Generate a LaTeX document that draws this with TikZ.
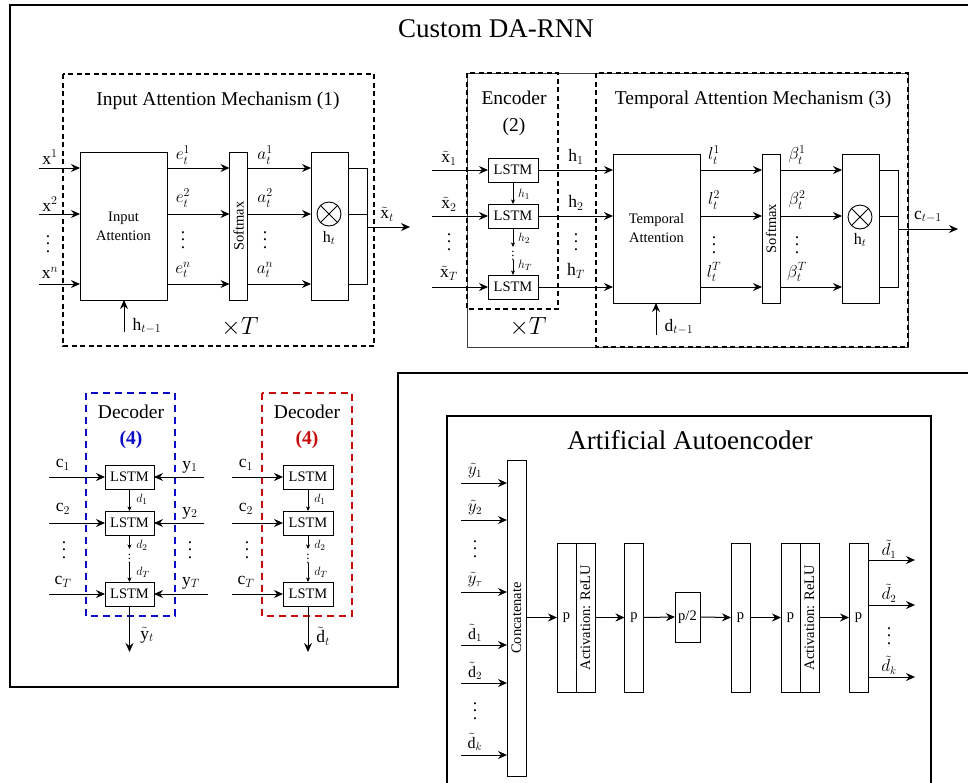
\documentclass[tikz,border=0pt]{standalone}
\usepackage{amsmath}
\usepackage{fontspec}
\setmainfont{Liberation Serif}
\usetikzlibrary{arrows.meta,calc}
\definecolor{dblue}{RGB}{10,10,200}
\definecolor{dred}{RGB}{200,10,10}
\newcommand{\vdt}{\vbox{\baselineskip=7.5pt\lineskiplimit=0pt\hbox{.}\hbox{.}\hbox{.}}}
\begin{document}
\begin{tikzpicture}[x=1pt,y=-1pt,
  box/.style={draw, line width=0.9pt, inner sep=0pt, outer sep=0pt},
  arr/.style={line width=1pt, -{Stealth[length=9pt,width=8pt,inset=3pt]}},
  sarr/.style={line width=0.7pt, -{Stealth[length=4.5pt,width=4pt,inset=1.2pt]}},
  ln/.style={line width=0.9pt},
  dbox/.style={draw, line width=1.3pt, dash pattern=on 5pt off 3.5pt},
  cbox/.style={draw, line width=2pt, dash pattern=on 7pt off 5pt},
  lbl/.style={font=\fontsize{17.5}{19}\selectfont, inner sep=0pt},
  albl/.style={font=\fontsize{16}{18}\selectfont, inner sep=0pt},
  slbl/.style={font=\fontsize{13}{14}\selectfont, inner sep=0pt},
  dts/.style={font=\fontsize{17.5}{19}\selectfont, inner sep=0pt},
  ttl/.style={font=\fontsize{19.5}{22}\selectfont, inner sep=0pt},
  big/.style={font=\fontsize{27}{30}\selectfont, inner sep=0pt},
  bigT/.style={font=\fontsize{24}{26}\selectfont, inner sep=0pt},
  intext/.style={font=\fontsize{14.5}{19}\selectfont, align=center},
  otimes/.style={draw, circle, minimum size=24pt, inner sep=0pt, line width=0.9pt},
]
\useasboundingbox (0,0) rectangle (968,782);

% ---------- outer frame ----------
\draw[line width=1.6pt] (975,5) -- (10,5) -- (10,687) -- (398,687) -- (398,373) -- (975,373);
\node[big] (title) at (496,29) {Custom DA-RNN};

% ---------- Input attention ----------
\draw[dbox] (63,74) rectangle (374,346);
\node[ttl] (iatitle) at (218,101) {Input Attention Mechanism (1)};
\node[box, minimum width=87pt, minimum height=148pt, intext] (ia) at (123.5,226) {Input\\Attention};
\node[box, minimum width=18pt, minimum height=148pt] (sm1) at (238.5,226) {};
\node[intext, inner sep=0pt, rotate=90] (sm1t) at (sm1.center) {Softmax};
\node[box, minimum width=37pt, minimum height=148pt] (mu1) at (329.5,226) {};
\node[otimes] (ot1) at (329,214) {};
\draw[line width=0.9pt] (ot1.north west) -- (ot1.south east) (ot1.north east) -- (ot1.south west);
\node[albl] (ht1) at (329,238) {$\mathrm{h}_t$};

\coordinate (xa) at (39,168);
\coordinate (xb) at (39,214);
\coordinate (xc) at (39,284);
\draw[arr] (xa) -- (xa -| ia.west);
\draw[arr] (xb) -- (xb -| ia.west);
\draw[arr] (xc) -- (xc -| ia.west);
\node[lbl] (lx1) at (50,157) {$\mathrm{x}^1$};
\node[lbl] (lx2) at (50,204) {$\mathrm{x}^2$};
\node[dts] (lxd) at (48,244) {\vdt};
\node[lbl] (lxn) at (50,273) {$\mathrm{x}^n$};

\draw[arr] (xa -| ia.east) -- (xa -| sm1.west);
\draw[arr] (xb -| ia.east) -- (xb -| sm1.west);
\draw[arr] (xc -| ia.east) -- (xc -| sm1.west);
\node[lbl] (le1) at (183,155) {$e_t^1$};
\node[lbl] (le2) at (183,198) {$e_t^2$};
\node[dts] (led) at (183,240) {\vdt};
\node[lbl] (len) at (183,270) {$e_t^n$};

\draw[arr] (xa -| sm1.east) -- (xa -| mu1.west);
\draw[arr] (xb -| sm1.east) -- (xb -| mu1.west);
\draw[arr] (xc -| sm1.east) -- (xc -| mu1.west);
\node[lbl] (la1) at (265,155) {$a_t^1$};
\node[lbl] (la2) at (265,198) {$a_t^2$};
\node[dts] (lad) at (265,240) {\vdt};
\node[lbl] (lan) at (265,270) {$a_t^n$};

\coordinate (j1) at (367,227);
\coordinate (o1) at (410,227);
\draw[ln] (xa -| mu1.east) -- (xa -| j1) -- (xc -| j1) -- (xc -| mu1.east);
\draw[ln] (xb -| mu1.east) -- (xb -| j1);
\draw[arr] (j1) -- (o1);
\node[lbl] (lxt) at (387,214) {$\tilde{\mathrm{x}}_t$};

\coordinate (hp) at (124,332);
\draw[arr] (hp) -- (hp |- ia.south);
\node[lbl] (lhp) at (147,326) {$\mathrm{h}_{t-1}$};
\node[bigT] (xT1) at (240,327) {$\times T$};

% ---------- Encoder + temporal attention ----------
\draw[line width=0.9pt, black!75] (467,73) rectangle (908,347);
\draw[dbox] (467,73) rectangle (558,309);
\draw[dbox] (596,73) rectangle (908,347);
\node[ttl] (enct) at (514,98) {Encoder};
\node[ttl] (enc2) at (514,127) {(2)};
\node[ttl] (tat) at (753,100) {Temporal Attention Mechanism (3)};
\node[bigT] (xT2) at (528,327) {$\times T$};

\node[box, minimum width=50pt, minimum height=24pt, intext] (e1) at (513,170) {LSTM};
\node[box, minimum width=50pt, minimum height=24pt, intext] (e2) at (513,216) {LSTM};
\node[box, minimum width=50pt, minimum height=24pt, intext] (e3) at (513,287) {LSTM};
\coordinate (ex1) at (432,170);
\coordinate (ex2) at (432,216);
\coordinate (ex3) at (432,287);
\draw[arr] (ex1) -- (e1.west);
\draw[arr] (ex2) -- (e2.west);
\draw[arr] (ex3) -- (e3.west);
\node[lbl] (lex1) at (449,158) {$\tilde{\mathrm{x}}_1$};
\node[lbl] (lex2) at (449,204) {$\tilde{\mathrm{x}}_2$};
\node[dts] (lexd) at (449,242) {\vdt};
\node[lbl] (lexT) at (449,273) {$\tilde{\mathrm{x}}_T$};

\draw[sarr] (e1.south) -- (e2.north);
\node[slbl] (lh1) at (524,194) {$h_1$};
\coordinate (em1) at (513,247);
\coordinate (em2) at (513,260);
\draw[sarr] (e2.south) -- (em1);
\node[slbl] (lh2) at (524,238) {$h_2$};
\node[slbl] (emd) at (513,253) {$\vdots$};
\draw[sarr] (em2) -- (e3.north);
\node[slbl] (lhT) at (525,265) {$h_T$};

\node[box, minimum width=87pt, minimum height=149pt, intext] (ta) at (656.5,228.5) {Temporal\\Attention};
\draw[arr] (e1.east) -- (e1.east -| ta.west);
\draw[arr] (e2.east) -- (e2.east -| ta.west);
\draw[arr] (e3.east) -- (e3.east -| ta.west);
\node[lbl] (lo1) at (576,157) {$\mathrm{h}_1$};
\node[lbl] (lo2) at (576,203) {$\mathrm{h}_2$};
\node[dts] (lod) at (576,242) {\vdt};
\node[lbl] (loT) at (576,271) {$\mathrm{h}_T$};

\node[box, minimum width=18pt, minimum height=149pt] (sm2) at (771,228.5) {};
\node[intext, inner sep=0pt, rotate=90] (sm2t) at (sm2.center) {Softmax};
\node[box, minimum width=37pt, minimum height=149pt] (mu2) at (860.5,228.5) {};
\node[otimes] (ot2) at (860,217) {};
\draw[line width=0.9pt] (ot2.north west) -- (ot2.south east) (ot2.north east) -- (ot2.south west);
\node[albl] (ht2) at (860,240) {$\mathrm{h}_t$};

\draw[arr] (e1.east -| ta.east) -- (e1.east -| sm2.west);
\draw[arr] (e2.east -| ta.east) -- (e2.east -| sm2.west);
\draw[arr] (e3.east -| ta.east) -- (e3.east -| sm2.west);
\node[lbl] (ll1) at (714,155) {$l_t^1$};
\node[lbl] (ll2) at (714,200) {$l_t^2$};
\node[dts] (lld) at (714,245) {\vdt};
\node[lbl] (llT) at (714,272) {$l_t^T$};

\draw[arr] (e1.east -| sm2.east) -- (e1.east -| mu2.west);
\draw[arr] (e2.east -| sm2.east) -- (e2.east -| mu2.west);
\draw[arr] (e3.east -| sm2.east) -- (e3.east -| mu2.west);
\node[lbl] (lb1) at (797,155) {$\beta_t^1$};
\node[lbl] (lb2) at (797,200) {$\beta_t^2$};
\node[dts] (lbd) at (797,245) {\vdt};
\node[lbl] (lbT) at (797,272) {$\beta_t^T$};

\coordinate (j2) at (898,229);
\coordinate (o2) at (958,229);
\draw[ln] (e1.east -| mu2.east) -- (e1.east -| j2) -- (e3.east -| j2) -- (e3.east -| mu2.east);
\draw[ln] (e2.east -| mu2.east) -- (e2.east -| j2);
\draw[arr] (j2) -- (o2);
\node[lbl] (lct) at (928,217) {$\mathrm{c}_{t-1}$};

\coordinate (dp) at (656,335);
\draw[arr] (dp) -- (dp |- ta.south);
\node[lbl] (ldp) at (679,327) {$\mathrm{d}_{t-1}$};

% ---------- Decoder (blue) ----------
\draw[cbox, dblue] (86,393) rectangle (175,616);
\node[ttl] (dbt) at (131,412) {Decoder};
\node[ttl, text=dblue] (db4) at (131,440) {\textbf{(4)}};
\node[box, minimum width=49pt, minimum height=24pt, intext] (db1) at (129.5,477) {LSTM};
\node[box, minimum width=49pt, minimum height=24pt, intext] (db2) at (129.5,523) {LSTM};
\node[box, minimum width=49pt, minimum height=24pt, intext] (db3) at (129.5,594) {LSTM};
\coordinate (bc1) at (49,477);
\coordinate (bc2) at (49,523);
\coordinate (bc3) at (49,594);
\draw[arr] (bc1) -- (db1.west);
\draw[arr] (bc2) -- (db2.west);
\draw[arr] (bc3) -- (db3.west);
\node[lbl] (lbc1) at (63,465) {$\mathrm{c}_1$};
\node[lbl] (lbc2) at (63,509) {$\mathrm{c}_2$};
\node[dts] (lbcd) at (64,550) {\vdt};
\node[lbl] (lbcT) at (63,582) {$\mathrm{c}_T$};
\coordinate (by1) at (204,477);
\coordinate (by2) at (204,523);
\coordinate (by3) at (208,594);
\draw[arr] (by1) -- (db1.east);
\draw[arr] (by2) -- (db2.east);
\draw[arr] (by3) -- (db3.east);
\node[lbl] (lby1) at (190,467) {$\mathrm{y}_1$};
\node[lbl] (lby2) at (190,513) {$\mathrm{y}_2$};
\node[dts] (lbyd) at (190,550) {\vdt};
\node[lbl] (lbyT) at (191,583) {$\mathrm{y}_T$};
\draw[sarr] (db1.south) -- (db2.north);
\node[slbl] (lbd1) at (142,499) {$d_1$};
\coordinate (bm1) at (129.5,549);
\coordinate (bm2) at (129.5,563);
\draw[sarr] (db2.south) -- (bm1);
\node[slbl] (lbd2) at (142,545) {$d_2$};
\node[slbl] (bmd) at (129.5,556) {$\vdots$};
\draw[sarr] (bm2) -- (db3.north);
\node[slbl] (lbdT) at (143,572) {$d_T$};
\coordinate (bout) at (129.5,652);
\draw[arr] (db3.south) -- (bout);
\node[lbl] (lyt) at (147,635) {$\tilde{\mathrm{y}}_t$};

% ---------- Decoder (red) ----------
\draw[cbox, dred] (262,393) rectangle (352,616);
\node[ttl] (drt) at (307,412) {Decoder};
\node[ttl, text=dred] (dr4) at (307,440) {\textbf{(4)}};
\node[box, minimum width=50pt, minimum height=24pt, intext] (dr1) at (308,477) {LSTM};
\node[box, minimum width=50pt, minimum height=24pt, intext] (dr2) at (308,523) {LSTM};
\node[box, minimum width=50pt, minimum height=24pt, intext] (dr3) at (308,594) {LSTM};
\coordinate (rc1) at (232,477);
\coordinate (rc2) at (232,523);
\coordinate (rc3) at (232,594);
\draw[arr] (rc1) -- (dr1.west);
\draw[arr] (rc2) -- (dr2.west);
\draw[arr] (rc3) -- (dr3.west);
\node[lbl] (lrc1) at (246,465) {$\mathrm{c}_1$};
\node[lbl] (lrc2) at (246,509) {$\mathrm{c}_2$};
\node[dts] (lrcd) at (247,550) {\vdt};
\node[lbl] (lrcT) at (246,582) {$\mathrm{c}_T$};
\draw[sarr] (dr1.south) -- (dr2.north);
\node[slbl] (lrd1) at (320,499) {$d_1$};
\coordinate (rm1) at (308,549);
\coordinate (rm2) at (308,563);
\draw[sarr] (dr2.south) -- (rm1);
\node[slbl] (lrd2) at (320,545) {$d_2$};
\node[slbl] (rmd) at (308,556) {$\vdots$};
\draw[sarr] (rm2) -- (dr3.north);
\node[slbl] (lrdT) at (321,572) {$d_T$};
\coordinate (rout) at (308,652);
\draw[arr] (dr3.south) -- (rout);
\node[lbl] (ldt) at (323,636) {$\tilde{\mathrm{d}}_t$};

% ---------- Artificial Autoencoder ----------
\draw[line width=1.4pt] (447,790) -- (447,416) -- (931,416) -- (931,790);
\node[big] (aet) at (690,440) {Artificial Autoencoder};
\node[box, minimum width=19pt, minimum height=316pt] (cat) at (516.5,618) {};
\node[intext, inner sep=0pt, rotate=90] (catt) at (cat.center) {Concatenate};
\coordinate (ai1) at (461,483);
\coordinate (ai2) at (461,520);
\coordinate (ai3) at (461,592);
\coordinate (ai4) at (461,645);
\coordinate (ai5) at (461,683);
\coordinate (ai6) at (461,755);
\draw[arr] (ai1) -- (ai1 -| cat.west);
\draw[arr] (ai2) -- (ai2 -| cat.west);
\draw[arr] (ai3) -- (ai3 -| cat.west);
\draw[arr] (ai4) -- (ai4 -| cat.west);
\draw[arr] (ai5) -- (ai5 -| cat.west);
\draw[arr] (ai6) -- (ai6 -| cat.west);
\node[albl] (lai1) at (475,471) {$\tilde{y}_1$};
\node[albl] (lai2) at (475,508) {$\tilde{y}_2$};
\node[dts] (laid) at (475,549) {\vdt};
\node[albl] (lai3) at (475,580) {$\tilde{y}_\tau$};
\node[albl] (lai4) at (475,633) {$\tilde{\mathrm{d}}_1$};
\node[albl] (lai5) at (475,671) {$\tilde{\mathrm{d}}_2$};
\node[dts] (laie) at (475,711) {\vdt};
\node[albl] (lai6) at (475,742) {$\tilde{\mathrm{d}}_k$};

\node[box, minimum width=19pt, minimum height=149pt, intext] (b1a) at (566.5,617.5) {p};
\node[box, minimum width=19pt, minimum height=149pt] (b1b) at (585.5,617.5) {};
\node[intext, inner sep=0pt, rotate=90] (b1t) at (b1b.center) {Activation: ReLU};
\node[box, minimum width=19pt, minimum height=149pt, intext] (b2) at (634,617.5) {p};
\node[box, minimum width=25pt, minimum height=50pt, intext] (b3) at (687.5,617) {p/2};
\node[box, minimum width=19pt, minimum height=149pt, intext] (b4) at (740.5,617.5) {p};
\node[box, minimum width=19pt, minimum height=149pt, intext] (b5a) at (790.5,617.5) {p};
\node[box, minimum width=19pt, minimum height=149pt] (b5b) at (809.5,617.5) {};
\node[intext, inner sep=0pt, rotate=90] (b5t) at (b5b.center) {Activation: ReLU};
\node[box, minimum width=19pt, minimum height=149pt, intext] (b6) at (858.5,617.5) {p};

\draw[arr] (cat.east |- b1a.west) -- (b1a.west);
\draw[arr] (b1b.east) -- (b2.west);
\draw[arr] (b2.east) -- (b3.west);
\draw[arr] (b3.east) -- (b4.west);
\draw[arr] (b4.east) -- (b5a.west);
\draw[arr] (b5b.east) -- (b6.west);

\coordinate (ao1) at (915,560);
\coordinate (ao2) at (915,605);
\coordinate (ao3) at (915,677);
\draw[arr] (ao1 -| b6.east) -- (ao1);
\draw[arr] (ao2 -| b6.east) -- (ao2);
\draw[arr] (ao3 -| b6.east) -- (ao3);
\node[albl] (lao1) at (889,549) {$\tilde{d}_1$};
\node[albl] (lao2) at (889,593) {$\tilde{d}_2$};
\node[dts] (laod) at (889,636) {\vdt};
\node[albl] (lao3) at (889,665) {$\tilde{d}_k$};
\end{tikzpicture}
\end{document}
